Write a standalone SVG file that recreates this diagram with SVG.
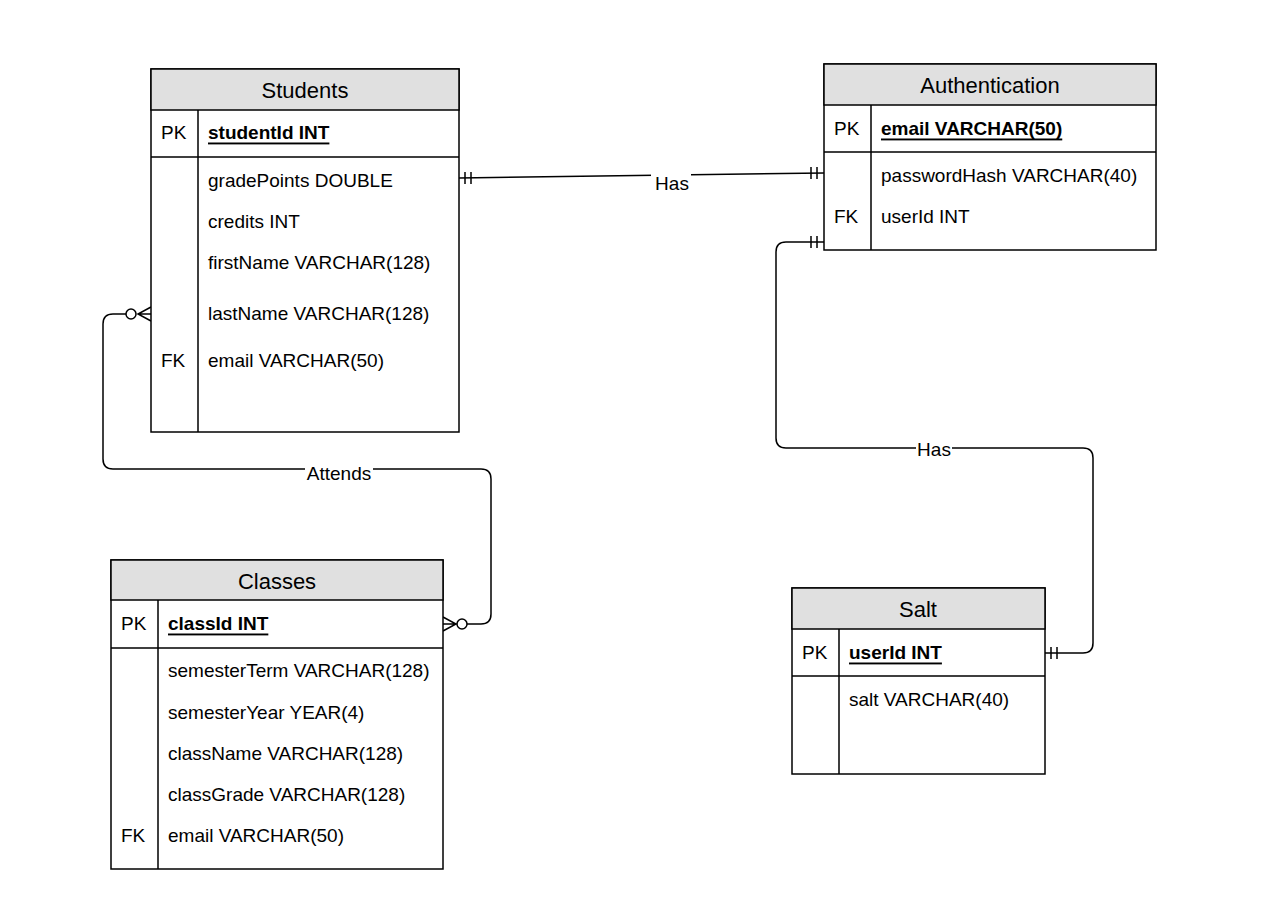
<svg xmlns="http://www.w3.org/2000/svg" width="1280" height="923" viewBox="0 0 1280 923">
<style>
.box{fill:#ffffff;stroke:#000;stroke-width:1.5}
.hdr{fill:#e0e0e0;stroke:#000;stroke-width:1.5}
.ln{stroke:#000;stroke-width:1.5;fill:none}
.t{font-family:"Liberation Sans",Arial,sans-serif;font-size:19px;fill:#000;dominant-baseline:central}
.title{font-family:"Liberation Sans",Arial,sans-serif;font-size:22px;fill:#000;dominant-baseline:central;text-anchor:middle}
.pk{font-weight:bold;text-decoration:underline}
.lbl{font-family:"Liberation Sans",Arial,sans-serif;font-size:19px;fill:#000;dominant-baseline:central;text-anchor:middle}
.edge{stroke:#000;stroke-width:1.5;fill:none}
</style>
<rect width="1280" height="923" fill="#ffffff"/>
<g id="connectors">
  <g id="e-students-auth">
    <path class="edge" d="M459,178 L824,173"/>
    <path class="edge" d="M465,172 V184 M471,172 V184 M811,167 V179 M817,167 V179"/>
    <rect x="651" y="173" width="40" height="20" fill="#ffffff"/>
    <text class="lbl" x="672" y="183">Has</text>
  </g>
  <g id="e-attends">
    <path class="edge" d="M136,314 H113 Q103,314 103,324 V459 Q103,469 113,469 H481 Q491,469 491,479 V614 Q491,624 481,624 H467"/>
    <circle cx="131" cy="314" r="5" fill="#ffffff" stroke="#000" stroke-width="1.5"/>
    <path class="edge" d="M151,307 L138,314 L151,321 M138,314 H151"/>
    <circle cx="462" cy="624" r="5" fill="#ffffff" stroke="#000" stroke-width="1.5"/>
    <path class="edge" d="M443,617 L456,624 L443,631 M443,624 H457"/>
    <rect x="305" y="462" width="68" height="20" fill="#ffffff"/>
    <text class="lbl" x="339" y="473">Attends</text>
  </g>
  <g id="e-auth-salt">
    <path class="edge" d="M824,242 H786 Q776,242 776,252 V438 Q776,448 786,448 H1083 Q1093,448 1093,458 V643 Q1093,653 1083,653 H1045"/>
    <path class="edge" d="M811,236 V248 M817,236 V248 M1051,647 V659 M1057,647 V659"/>
    <rect x="916" y="439" width="36" height="20" fill="#ffffff"/>
    <text class="lbl" x="934" y="449">Has</text>
  </g>
</g>
<g id="students">
  <rect class="box" x="151" y="69" width="308" height="363"/>
  <rect class="hdr" x="151" y="69" width="308" height="41"/>
  <path class="ln" d="M151,157 H459 M198,110 V432"/>
  <text class="title" x="305" y="90">Students</text>
  <text class="t" x="161" y="132">PK</text>
  <text class="t pk" x="208" y="132">studentId INT</text>
  <text class="t" x="208" y="180">gradePoints DOUBLE</text>
  <text class="t" x="208" y="221">credits INT</text>
  <text class="t" x="208" y="262">firstName VARCHAR(128)</text>
  <text class="t" x="208" y="313">lastName VARCHAR(128)</text>
  <text class="t" x="161" y="360">FK</text>
  <text class="t" x="208" y="360">email VARCHAR(50)</text>
</g>
<g id="authentication">
  <rect class="box" x="824" y="64" width="332" height="186"/>
  <rect class="hdr" x="824" y="64" width="332" height="41"/>
  <path class="ln" d="M824,152 H1156 M871,105 V250"/>
  <text class="title" x="990" y="85">Authentication</text>
  <text class="t" x="834" y="128">PK</text>
  <text class="t pk" x="881" y="128">email VARCHAR(50)</text>
  <text class="t" x="881" y="175">passwordHash VARCHAR(40)</text>
  <text class="t" x="834" y="216">FK</text>
  <text class="t" x="881" y="216">userId INT</text>
</g>
<g id="classes">
  <rect class="box" x="111" y="560" width="332" height="309"/>
  <rect class="hdr" x="111" y="560" width="332" height="40"/>
  <path class="ln" d="M111,648 H443 M158,600 V869"/>
  <text class="title" x="277" y="581">Classes</text>
  <text class="t" x="121" y="623">PK</text>
  <text class="t pk" x="168" y="623">classId INT</text>
  <text class="t" x="168" y="670">semesterTerm VARCHAR(128)</text>
  <text class="t" x="168" y="712">semesterYear YEAR(4)</text>
  <text class="t" x="168" y="753">className VARCHAR(128)</text>
  <text class="t" x="168" y="794">classGrade VARCHAR(128)</text>
  <text class="t" x="121" y="835">FK</text>
  <text class="t" x="168" y="835">email VARCHAR(50)</text>
</g>
<g id="salt">
  <rect class="box" x="792" y="588" width="253" height="186"/>
  <rect class="hdr" x="792" y="588" width="253" height="41"/>
  <path class="ln" d="M792,676 H1045 M839,629 V774"/>
  <text class="title" x="918" y="609">Salt</text>
  <text class="t" x="802" y="652">PK</text>
  <text class="t pk" x="849" y="652">userId INT</text>
  <text class="t" x="849" y="699">salt VARCHAR(40)</text>
</g>
</svg>
